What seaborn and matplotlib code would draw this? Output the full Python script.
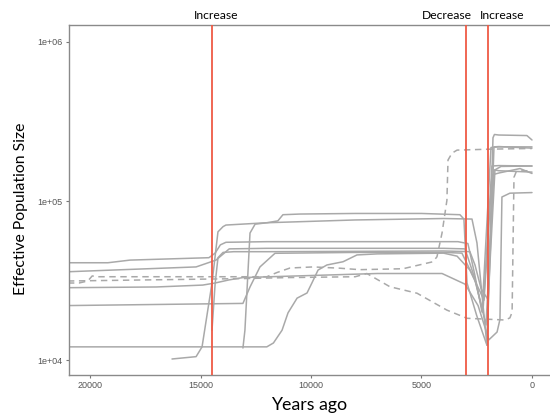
import numpy as np
import pandas as pd
import matplotlib
matplotlib.use("Agg")
import matplotlib.pyplot as plt
import matplotlib.transforms as mtransforms
import seaborn as sns

# ---------------- data (years ago, effective population size) ----------------
s1_years = [16290, 15200, 14930, 14480, 14210, 13980, 13850, 12000, 8000, 4000, 2715, 2490, 2040, 1720, 1500, 0]
s1_ne    = [10150, 10500, 12100, 30500, 64000, 69000, 70600, 73000, 76000, 77600, 77000, 54500, 12400, 219000, 220000, 215000]

s2_years = [13080, 12990, 12760, 12530, 11990, 11500, 11270, 10500, 8000, 5000, 3260, 3080, 2940, 2500, 2040, 1765, 1700, 1500, 230, 0]
s2_ne    = [11900, 15400, 62900, 71500, 73000, 75000, 82000, 82800, 83500, 83500, 82000, 77000, 30500, 19000, 12400, 250000, 262000, 260000, 258000, 242000]

l1_years = [21000, 19190, 18190, 14620, 14340, 14100, 13850, 12000, 4000, 3350, 2900, 2600, 2260, 1855, 1500, 0]
l1_ne    = [40900, 40900, 42500, 44000, 47000, 53000, 55000, 55500, 55500, 55500, 54000, 35000, 20000, 217000, 219000, 219000]

l2_years = [21000, 15200, 14300, 13700, 12000, 4000, 3030, 2600, 2350, 2220, 1810, 1500, 0]
l2_ne    = [35900, 38500, 42500, 50000, 50400, 50400, 50000, 33000, 23800, 20000, 166000, 167000, 166000]

s3_years = [14480, 14340, 14210, 13980, 13500, 12000, 4000, 2810, 2580, 2300, 1990, 1675, 1400, 0]
s3_ne    = [15400, 30000, 44000, 47500, 48000, 48000, 48500, 48000, 39600, 28000, 24000, 157000, 165000, 166000]

l4_years = [21000, 13080, 12760, 12310, 11630, 8000, 4000, 3170, 2580, 2080, 1720, 1500, 0]
l4_ne    = [22000, 22700, 28800, 38500, 46900, 47500, 47500, 47000, 31800, 16600, 157000, 155000, 152000]

l5_years = [21000, 12000, 11700, 11310, 11040, 10630, 10180, 9960, 9680, 9280, 8550, 7920, 7000, 4000, 3390, 2810, 2170, 1810, 1500, 540, 0]
l5_ne    = [12100, 12100, 12800, 15400, 19800, 24500, 26400, 30500, 36800, 39600, 41500, 45800, 46500, 47000, 45000, 36800, 23800, 146000, 150000, 160000, 149000]

l3_years = [21000, 17000, 14900, 14340, 13710, 13080, 10000, 7000, 4070, 3030, 2440, 1950, 1580, 1450, 1360, 1000, 0]
l3_ne    = [28500, 28800, 29600, 30500, 31900, 33000, 34000, 35000, 35000, 30000, 22000, 13400, 15000, 18000, 106000, 112000, 113000]

da_years = [21000, 20500, 20100, 19900, 19700, 12000, 11540, 10950, 9900, 8700, 7800, 5840, 4480, 4300, 4070, 3850, 3800, 3620, 3390, 1800, 0]
da_ne    = [30500, 30500, 31400, 33800, 33400, 33400, 35500, 37900, 38500, 37800, 37000, 37500, 41500, 44600, 63000, 101000, 181000, 200000, 209000, 212000, 214000]

db_years = [21000, 13200, 11000, 8000, 7470, 6430, 5200, 3850, 2940, 1220, 1000, 900, 815, 720, 400, 0]
db_ne    = [31400, 32500, 33000, 33400, 35000, 28900, 26300, 20600, 18300, 17850, 18400, 20000, 141000, 152000, 155000, 155000]

series = {
    "s1": (s1_years, s1_ne, "solid"), "s2": (s2_years, s2_ne, "solid"),
    "l1": (l1_years, l1_ne, "solid"), "l2": (l2_years, l2_ne, "solid"),
    "s3": (s3_years, s3_ne, "solid"), "l4": (l4_years, l4_ne, "solid"),
    "l5": (l5_years, l5_ne, "solid"), "l3": (l3_years, l3_ne, "solid"),
    "da": (da_years, da_ne, "dashed"), "db": (db_years, db_ne, "dashed"),
}

event_years = [14500, 3000, 2000]
event_labels = ["Increase", "Decrease", "Increase"]
event_label_x = [14300, 3850, 1360]

x_ticks = [20000, 15000, 10000, 5000, 0]
x_ticklabels = ["20000", "15000", "10000", "5000", "0"]
y_ticks = [1e4, 1e5, 1e6]
y_ticklabels = ["1e+04", "1e+05", "1e+06"]

# ---------------- build table ----------------
rows = []
for name, (yrs, ne, kind) in series.items():
    for i, (a, b) in enumerate(zip(yrs, ne)):
        rows.append({"series": name, "order": i, "years": a, "ne": b, "kind": kind})
df = pd.DataFrame(rows)

sns.set_theme(style="white")
plt.rcParams["font.family"] = ["Lato", "DejaVu Sans"]

fig = plt.figure(figsize=(5.5, 4.16), dpi=100)
W, H = 550, 416
ax = fig.add_axes([69 / W, 1 - 375 / H, (550 - 69) / W, (375 - 25) / H])

gray = "#a9a9a9"
sns.lineplot(data=df, x="years", y="ne", units="series", estimator=None,
             style="kind", style_order=["solid", "dashed"],
             dashes={"solid": "", "dashed": (4.2, 3.0)},
             color=gray, lw=1.1, sort=False, legend=False, ax=ax)

red = "#EF5A45"
for ev in event_years:
    ax.axvline(ev, color=red, lw=1.3, zorder=5)

ax.set_yscale("log")
ax.set_xlim(20951, -815)
ax.set_ylim(8050, 1.279e6)

ax.set_xticks(x_ticks)
ax.set_xticklabels(x_ticklabels)
ax.set_yticks(y_ticks)
ax.set_yticklabels(y_ticklabels)
ax.yaxis.set_minor_locator(matplotlib.ticker.NullLocator())
for lab in ax.get_xticklabels() + ax.get_yticklabels():
    lab.set_fontfamily("Liberation Sans")
    lab.set_fontsize(6.5)
    lab.set_color("#555555")
ax.tick_params(axis="both", which="major", length=2.5, width=0.8, color="#777777", pad=2,
               bottom=True, left=True)

for side in ["left", "bottom", "top"]:
    ax.spines[side].set_color("#8a8a8a")
    ax.spines[side].set_linewidth(1.0)
ax.spines["right"].set_visible(False)

ax.set_xlabel("Years ago", fontsize=12.8, color="black")
ax.set_ylabel("Effective Population Size", fontsize=11.3, color="black")
ax.xaxis.set_label_coords(0.5, (375 - 405) / 350)
ax.xaxis.label.set_va("center")
ax.yaxis.set_label_coords((21 - 69) / 481, (375 - 208.5) / 350)
ax.yaxis.label.set_va("center")

trans = mtransforms.blended_transform_factory(ax.transData, ax.transAxes)
for xl, txt in zip(event_label_x, event_labels):
    ax.text(xl, (375 - 15) / 350, txt, transform=trans, ha="center", va="center",
            fontsize=8.7, color="black", clip_on=False)

fig.savefig("out.png", dpi=100)
